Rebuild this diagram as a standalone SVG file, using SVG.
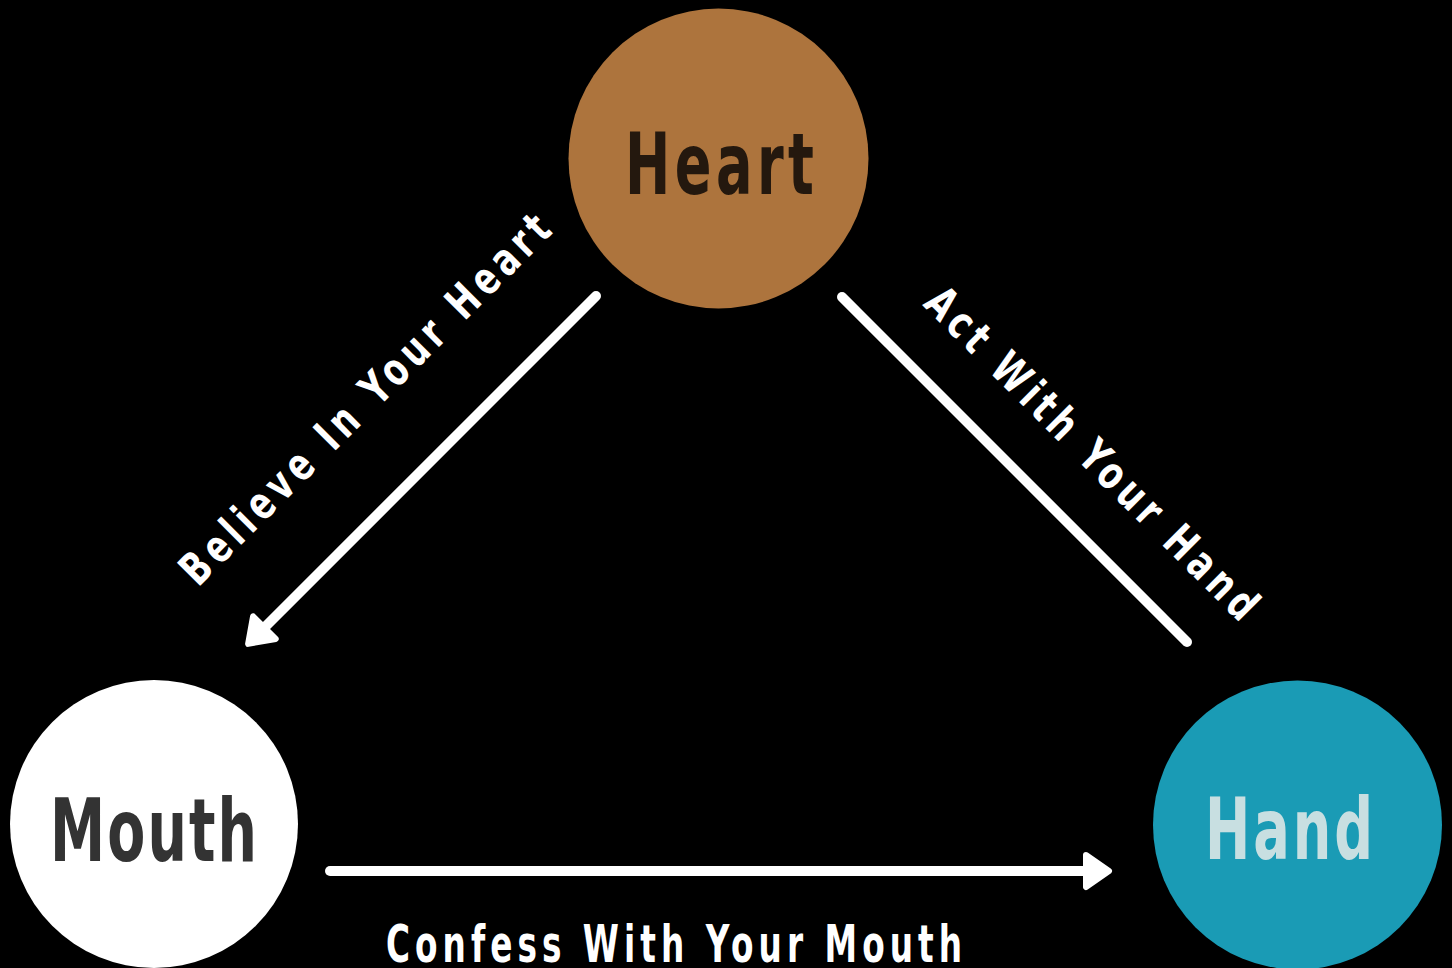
<svg xmlns="http://www.w3.org/2000/svg" xmlns:xlink="http://www.w3.org/1999/xlink" width="1452" height="968" viewBox="0 0 1452 968">
<style>
.t{font-family:"DejaVu Sans Condensed","DejaVu Sans","Liberation Sans",sans-serif;font-weight:bold;font-stretch:condensed}
.node-label{font-size:86px}
.edge-label{font-size:45px;fill:#FFFFFF}
.conn{stroke:#FFFFFF;stroke-width:10;stroke-linecap:round;fill:none}
.head{fill:#FFFFFF;stroke:#FFFFFF;stroke-width:6;stroke-linejoin:round}
</style>
<defs>
<path id="arrowhead" class="head" d="M-26,-16 L-3,0 L-26,16 Z"/>
</defs>
<rect x="0" y="0" width="1452" height="968" fill="#000000"/>
<g id="connectors">
<line class="conn" x1="596" y1="296" x2="262" y2="630"/>
<use xlink:href="#arrowhead" transform="translate(246,646) rotate(135)"/>
<line class="conn" x1="842" y1="297" x2="1187" y2="642"/>
<line class="conn" x1="330" y1="871" x2="1092" y2="871"/>
<use xlink:href="#arrowhead" transform="translate(1112,871)"/>
<text class="t edge-label" transform="translate(198,588) rotate(-45) scale(0.82,1)" x="0" y="0" textLength="613.4" lengthAdjust="spacing">Believe In Your Heart</text>
<text class="t edge-label" transform="translate(922,305) rotate(45) scale(0.82,1)" x="0" y="0" textLength="548.8" lengthAdjust="spacing">Act With Your Hand</text>
<text class="t edge-label" style="font-size:52px" transform="translate(386,962) scale(0.7,1)" x="0" y="0" textLength="822.9" lengthAdjust="spacing">Confess With Your Mouth</text>
</g>
<g id="node-heart">
<circle cx="718.5" cy="158.5" r="150" fill="#AD743D"/>
<text class="t node-label" transform="translate(625,194) scale(0.7,1)" x="0" y="0" fill="#24180E" textLength="270" lengthAdjust="spacing">Heart</text>
</g>
<g id="node-mouth">
<circle cx="154" cy="824" r="144" fill="#FFFFFF"/>
<text class="t node-label" style="font-size:88px" transform="translate(50,861) scale(0.7,1)" x="0" y="0" fill="#333333" textLength="295.7" lengthAdjust="spacing">Mouth</text>
</g>
<g id="node-hand">
<circle cx="1297.5" cy="825" r="144.5" fill="#1A9BB5"/>
<text class="t node-label" transform="translate(1205,859) scale(0.7,1)" x="0" y="0" fill="#C8DFE1" textLength="240" lengthAdjust="spacing">Hand</text>
</g>
</svg>
